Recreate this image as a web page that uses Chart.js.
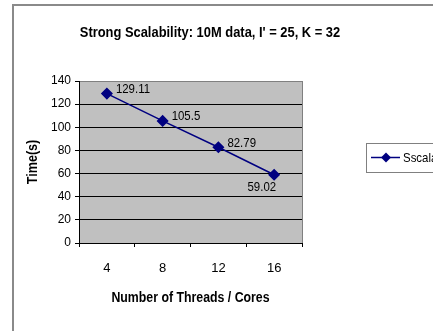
<!DOCTYPE html>
<html><head><meta charset="utf-8">
<script src="https://cdn.jsdelivr.net/npm/chart.js@4.4.1/dist/chart.umd.min.js"></script>
<style>html,body{margin:0;padding:0;background:#fff}#wrap{width:433px;height:331px;position:relative}</style>
</head><body><div id="wrap"><canvas id="c" width="433" height="331"></canvas></div>
<script>
const categories = ["4", "8", "12", "16"];
const timeValues = [129.11, 105.5, 82.79, 59.02];
const valueLabels = ["129.11", "105.5", "82.79", "59.02"];
const seriesName = "Sscalability";
const titleText = "Strong Scalability: 10M data, I' = 25, K = 32";
const xTitle = "Number of Threads / Cores";
const yTitle = "Time(s)";

const FONT = "'Liberation Sans', Arial, sans-serif";
const NAVY = "#000080";

function narrowText(ctx, text, x, y, align, sx) {
  ctx.save();
  ctx.translate(x, y);
  ctx.scale(sx, 1);
  ctx.textAlign = align;
  ctx.fillText(text, 0, 0);
  ctx.restore();
}

const decor = {
  id: 'decor',
  beforeDraw(chart) {
    const ctx = chart.ctx, a = chart.chartArea;
    ctx.save();
    ctx.fillStyle = '#fff';
    ctx.fillRect(0, 0, chart.width, chart.height);
    ctx.fillStyle = '#c0c0c0';
    ctx.fillRect(a.left, a.top, a.right - a.left, a.bottom - a.top);
    ctx.strokeStyle = '#8a8a8a';
    ctx.lineWidth = 2;
    ctx.beginPath();
    ctx.moveTo(13, chart.height);
    ctx.lineTo(13, 5);
    ctx.lineTo(chart.width, 5);
    ctx.stroke();
    ctx.restore();
  },
  afterDraw(chart) {
    const ctx = chart.ctx, a = chart.chartArea;
    ctx.save();
    ctx.strokeStyle = '#808080';
    ctx.lineWidth = 1;
    ctx.beginPath();
    ctx.moveTo(a.right + 0.5, a.top);
    ctx.lineTo(a.right + 0.5, a.bottom);
    ctx.stroke();
    ctx.fillStyle = '#000';
    ctx.textBaseline = 'middle';
    ctx.font = "bold 15px " + FONT;
    narrowText(ctx, titleText, 210, 33, 'center', 0.86);
    ctx.font = "bold 14px " + FONT;
    narrowText(ctx, xTitle, (a.left + a.right) / 2, 298, 'center', 0.88);
    ctx.save();
    ctx.translate(33, (a.top + a.bottom) / 2);
    ctx.rotate(-Math.PI / 2);
    ctx.font = "bold 14px " + FONT;
    narrowText(ctx, yTitle, 0, 0, 'center', 0.9);
    ctx.restore();
    const meta = chart.getDatasetMeta(0);
    ctx.font = "13px " + FONT;
    meta.data.forEach((pt, i) => {
      if (i === meta.data.length - 1) {
        narrowText(ctx, valueLabels[i], pt.x + 2, pt.y + 13, 'right', 0.88);
      } else {
        narrowText(ctx, valueLabels[i], pt.x + 9, pt.y - 4, 'left', 0.88);
      }
    });
    const lx = 366, ly = 143, lw = 80, lh = 29;
    ctx.fillStyle = '#fff';
    ctx.fillRect(lx, ly, lw, lh);
    ctx.strokeStyle = '#808080';
    ctx.lineWidth = 1;
    ctx.strokeRect(lx + 0.5, ly + 0.5, lw, lh);
    const cy = ly + lh / 2;
    ctx.strokeStyle = NAVY;
    ctx.lineWidth = 1.5;
    ctx.beginPath();
    ctx.moveTo(371, cy);
    ctx.lineTo(400, cy);
    ctx.stroke();
    ctx.fillStyle = NAVY;
    ctx.beginPath();
    ctx.moveTo(386, cy - 5);
    ctx.lineTo(391, cy);
    ctx.lineTo(386, cy + 5);
    ctx.lineTo(381, cy);
    ctx.closePath();
    ctx.fill();
    ctx.fillStyle = '#000';
    ctx.font = "13px " + FONT;
    narrowText(ctx, seriesName, 403, cy + 1, 'left', 0.88);
    ctx.restore();
  }
};

new Chart(document.getElementById('c'), {
  type: 'line',
  data: {
    labels: categories,
    datasets: [{
      label: seriesName,
      data: timeValues,
      borderColor: NAVY,
      backgroundColor: NAVY,
      borderWidth: 1.5,
      pointStyle: 'rectRot',
      pointRadius: 5,
      pointBackgroundColor: NAVY,
      pointBorderColor: NAVY,
      tension: 0,
      fill: false
    }]
  },
  options: {
    responsive: false,
    animation: false,
    devicePixelRatio: 1,
    layout: { padding: { top: 81, left: 0, right: 131, bottom: 0 } },
    plugins: { legend: { display: false }, tooltip: { enabled: false }, title: { display: false } },
    scales: {
      x: {
        type: 'category',
        offset: true,
        afterFit(s) { s.height = 88; },
        grid: {
          offset: true,
          drawOnChartArea: false,
          drawTicks: true,
          tickLength: 4,
          color: '#000'
        },
        border: { display: true, color: '#000', width: 1 },
        ticks: { color: '#000', font: { family: FONT, size: 13 }, padding: 14, maxRotation: 0 }
      },
      y: {
        min: 0, max: 140,
        afterFit(s) { s.width = 79; },
        grid: {
          color: (c) => (c.tick && c.tick.value === 140) ? '#808080' : '#000',
          lineWidth: 1,
          drawTicks: true,
          tickLength: 4,
          tickColor: '#000'
        },
        border: { display: true, color: '#000', width: 1 },
        ticks: { stepSize: 20, color: '#000', font: { family: FONT, size: 12 }, padding: 4 }
      }
    }
  },
  plugins: [decor]
});
</script>
</body></html>
